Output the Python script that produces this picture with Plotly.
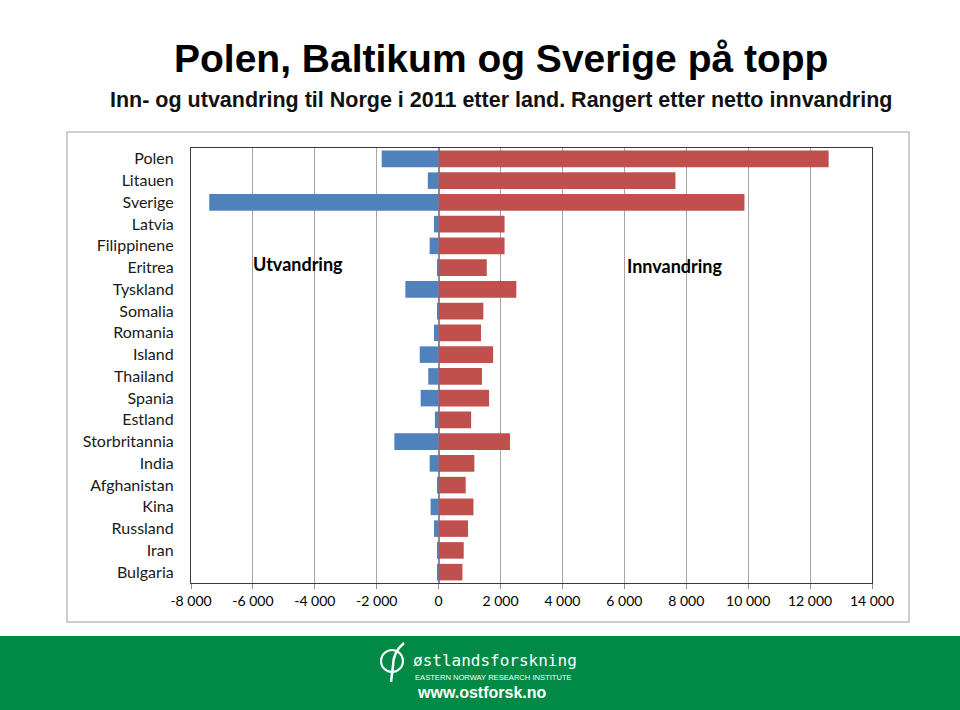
import plotly.graph_objects as go

# ---------------- data ----------------
countries = ["Polen", "Litauen", "Sverige", "Latvia", "Filippinene", "Eritrea",
             "Tyskland", "Somalia", "Romania", "Island", "Thailand", "Spania",
             "Estland", "Storbritannia", "India", "Afghanistan", "Kina",
             "Russland", "Iran", "Bulgaria"]
utvandring = [-1840, -350, -7410, -150, -290, -50, -1075, -40, -150, -610,
              -335, -580, -120, -1430, -290, -40, -260, -150, -40, -40]
innvandring = [12600, 7650, 9880, 2130, 2130, 1555, 2510, 1445, 1370, 1760,
               1400, 1630, 1050, 2305, 1155, 875, 1125, 950, 810, 770]
x_tick_vals = [-8000, -6000, -4000, -2000, 0, 2000, 4000, 6000, 8000, 10000, 12000, 14000]
x_tick_text = ["-8 000", "-6 000", "-4 000", "-2 000", "0", "2 000", "4 000",
               "6 000", "8 000", "10 000", "12 000", "14 000"]

title = "Polen, Baltikum og Sverige på topp"
subtitle = "Inn- og utvandring til Norge i 2011 etter land. Rangert etter netto innvandring"

# ---------------- layout helpers (pixel -> paper) ----------------
W, H = 960, 710
PL, PR, PT, PB = 191, 872, 148, 583


def px(x):
    return (x - PL) / (PR - PL)


def py(y):
    return (PB - y) / (PB - PT)


BLUE = "#4f81bd"
RED = "#c0504d"
GREEN = "#008a45"
LABEL_FONT = "Lato, Carlito, 'Open Sans', sans-serif"
HEAD_FONT = "'Liberation Sans', Arial, sans-serif"

fig = go.Figure()
fig.add_trace(go.Bar(y=countries, x=utvandring, orientation="h", name="Utvandring",
                     marker=dict(color=BLUE, line=dict(width=0))))
fig.add_trace(go.Bar(y=countries, x=innvandring, orientation="h", name="Innvandring",
                     marker=dict(color=RED, line=dict(width=0))))

shapes = [
    # outer chart frame
    dict(type="rect", xref="paper", yref="paper", x0=px(67), x1=px(909), y0=py(622), y1=py(132),
         line=dict(color="#bfbfbf", width=1.5), fillcolor="rgba(0,0,0,0)", layer="below"),
    # green footer band
    dict(type="rect", xref="paper", yref="paper", x0=px(0), x1=px(W), y0=py(H), y1=py(636),
         line=dict(width=0), fillcolor=GREEN, layer="below"),
    # logo circle
    dict(type="circle", xref="paper", yref="paper", x0=px(381), x1=px(403), y0=py(672), y1=py(650),
         line=dict(color="white", width=2)),
    # logo stroke
    dict(type="path", xref="paper", yref="paper",
         path=f"M {px(404)} {py(643)} Q {px(393)} {py(652)} {px(393)} {py(666)} L {px(391)} {py(682)}",
         line=dict(color="white", width=2.5)),
]

annotations = [
    dict(text=f"<b>{title}</b>", xref="paper", yref="paper", x=px(501), y=py(58),
         xanchor="center", yanchor="middle", showarrow=False,
         font=dict(family=HEAD_FONT, size=39, color="black")),
    dict(text=f"<b>{subtitle}</b>", xref="paper", yref="paper", x=px(501), y=py(100),
         xanchor="center", yanchor="middle", showarrow=False,
         font=dict(family=HEAD_FONT, size=21.5, color="#111111")),
    dict(text="<b>Utvandring</b>", xref="paper", yref="paper", x=px(298), y=py(264),
         xanchor="center", yanchor="middle", showarrow=False,
         font=dict(family=LABEL_FONT, size=18, color="black")),
    dict(text="<b>Innvandring</b>", xref="paper", yref="paper", x=px(675), y=py(266),
         xanchor="center", yanchor="middle", showarrow=False,
         font=dict(family=LABEL_FONT, size=18, color="black")),
    # footer logo texts
    dict(text="østlandsforskning", xref="paper", yref="paper", x=px(411), y=py(660),
         xanchor="left", yanchor="middle", showarrow=False,
         font=dict(family="'DejaVu Sans Mono', monospace", size=16, color="white")),
    dict(text="EASTERN NORWAY RESEARCH INSTITUTE", xref="paper", yref="paper", x=px(413), y=py(677),
         xanchor="left", yanchor="middle", showarrow=False,
         font=dict(family=HEAD_FONT, size=7.6, color="white")),
    dict(text="<b>www.ostforsk.no</b>", xref="paper", yref="paper", x=px(415), y=py(692),
         xanchor="left", yanchor="middle", showarrow=False,
         font=dict(family=HEAD_FONT, size=16, color="white")),
]

fig.update_layout(
    width=W, height=H,
    margin=dict(l=PL, r=W - PR, t=PT, b=H - PB, pad=0),
    paper_bgcolor="white", plot_bgcolor="white",
    barmode="relative", bargap=0.24,
    showlegend=False,
    shapes=shapes, annotations=annotations,
    xaxis=dict(range=[-8000, 14000], tickvals=x_tick_vals, ticktext=x_tick_text,
               showgrid=True, gridcolor="#a6a6a6", gridwidth=1,
               zeroline=True, zerolinecolor="#8c8c8c", zerolinewidth=1.5,
               showline=True, linecolor="#3a3a3a", linewidth=1.2, mirror=True,
               ticks="outside", ticklen=5, tickcolor="#8c8c8c",
               tickfont=dict(family=LABEL_FONT, size=14, color="black")),
    yaxis=dict(categoryorder="array", categoryarray=countries, autorange="reversed",
               showgrid=False, zeroline=False,
               showline=True, linecolor="#3a3a3a", linewidth=1.2, mirror=True,
               ticks="", ticklabelstandoff=13,
               tickfont=dict(family=LABEL_FONT, size=16, color="#1a1a1a")),
)

fig.write_html("out.html", config={"displayModeBar": False},
               post_script="document.body.style.margin='0';document.body.style.overflow='hidden';")
